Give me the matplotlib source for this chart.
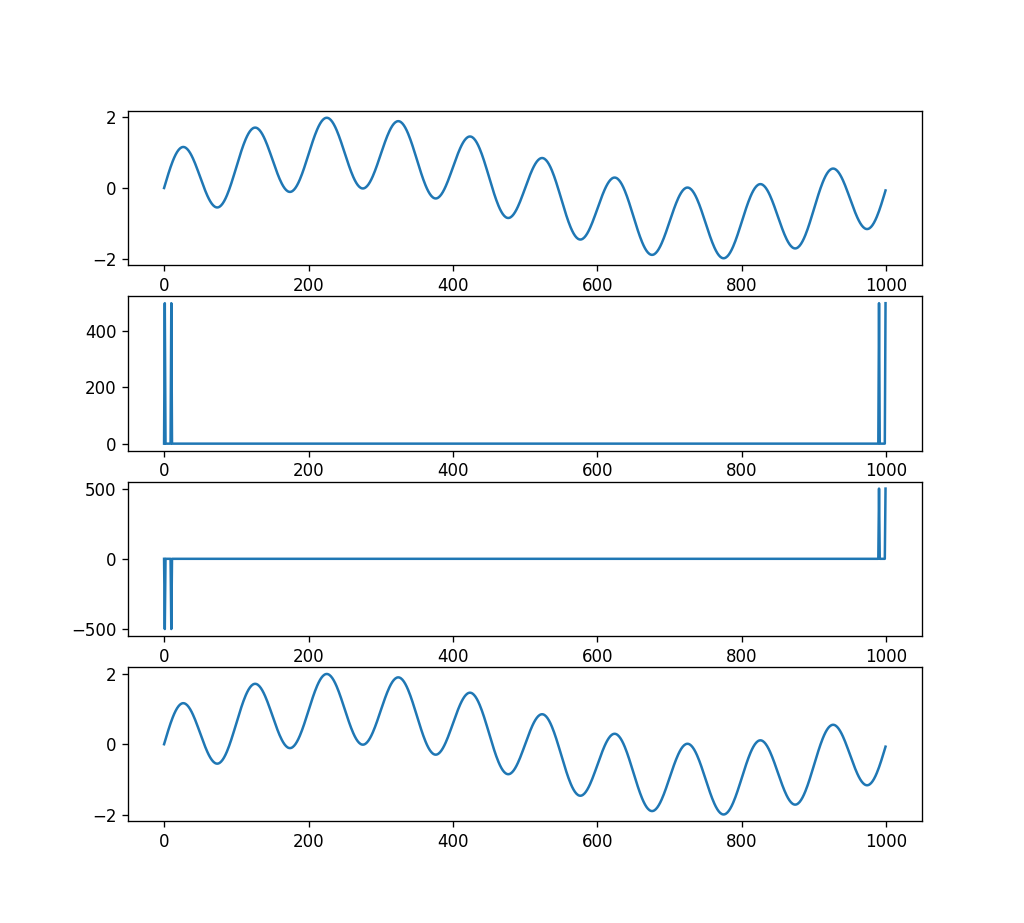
import numpy as np
import matplotlib
matplotlib.use("Agg")
import matplotlib.pyplot as plt

n_samples = 1000
frequencies = [1, 10]   # cycles over the window
amplitudes = [1.0, 1.0]

n = np.arange(n_samples)
signal = sum(a * np.sin(2 * np.pi * f * n / n_samples) for f, a in zip(frequencies, amplitudes))
spectrum = np.fft.fft(signal)
recovered = np.fft.ifft(spectrum).real

dpi = 120
fig, axes = plt.subplots(4, 1, figsize=(1024 / dpi, 923 / dpi), dpi=dpi)
axes[0].plot(n, signal)
axes[1].plot(n, np.abs(spectrum))
axes[2].plot(n, spectrum.imag)
axes[3].plot(n, recovered)
fig.savefig("out.png", dpi=dpi)
